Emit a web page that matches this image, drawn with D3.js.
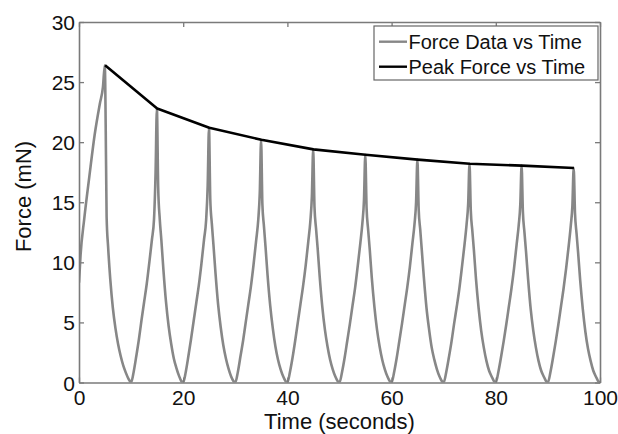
<!DOCTYPE html>
<html>
<head>
<meta charset="utf-8">
<script src="https://cdn.jsdelivr.net/npm/d3@7"></script>
<style>
  html, body { margin: 0; padding: 0; background: #fff; }
  svg { display: block; }
  text { font-family: "Liberation Sans", Arial, sans-serif; fill: #111; }
</style>
</head>
<body>
<svg id="chart" width="618" height="434"></svg>
<script>
// ---- data ----
const xTicks = [0, 20, 40, 60, 80, 100];
const yTicks = [0, 5, 10, 15, 20, 25, 30];

const peakTime  = [5, 15, 25, 35, 45, 55, 65, 75, 85, 95];
const peakForce = [26.4, 22.8, 21.2, 20.2, 19.4, 18.95, 18.55, 18.2, 18.05, 17.85];

const forceTime = [
  0, 0.3, 1, 2, 3, 4, 4.6, 4.95, 5.2, 5.3, 5.6, 6, 6.5, 7, 7.5, 8, 8.5, 9, 9.5, 10,
  10.5, 11, 11.5, 12, 12.5, 13, 13.5, 14, 14.4, 14.7, 14.95, 15.2, 15.5, 15.8, 16.2, 16.7, 17.2, 17.7, 18.2, 18.7, 19.2, 19.6, 20,
  20.5, 21, 21.5, 22, 22.5, 23, 23.5, 24, 24.4, 24.7, 24.95, 25.2, 25.5, 25.8, 26.2, 26.7, 27.2, 27.7, 28.2, 28.7, 29.2, 29.6, 30,
  30.5, 31, 31.5, 32, 32.5, 33, 33.5, 34, 34.4, 34.7, 34.95, 35.2, 35.5, 35.8, 36.2, 36.7, 37.2, 37.7, 38.2, 38.7, 39.2, 39.6, 40,
  40.5, 41, 41.5, 42, 42.5, 43, 43.5, 44, 44.4, 44.7, 44.95, 45.2, 45.5, 45.8, 46.2, 46.7, 47.2, 47.7, 48.2, 48.7, 49.2, 49.6, 50,
  50.5, 51, 51.5, 52, 52.5, 53, 53.5, 54, 54.4, 54.7, 54.95, 55.2, 55.5, 55.8, 56.2, 56.7, 57.2, 57.7, 58.2, 58.7, 59.2, 59.6, 60,
  60.5, 61, 61.5, 62, 62.5, 63, 63.5, 64, 64.4, 64.7, 64.95, 65.2, 65.5, 65.8, 66.2, 66.7, 67.2, 67.7, 68.2, 68.7, 69.2, 69.6, 70,
  70.5, 71, 71.5, 72, 72.5, 73, 73.5, 74, 74.4, 74.7, 74.95, 75.2, 75.5, 75.8, 76.2, 76.7, 77.2, 77.7, 78.2, 78.7, 79.2, 79.6, 80,
  80.5, 81, 81.5, 82, 82.5, 83, 83.5, 84, 84.4, 84.7, 84.95, 85.2, 85.5, 85.8, 86.2, 86.7, 87.2, 87.7, 88.2, 88.7, 89.2, 89.6, 90,
  90.5, 91, 91.5, 92, 92.5, 93, 93.5, 94, 94.4, 94.7, 94.95, 95.2, 95.5, 95.8, 96.2, 96.7, 97.2, 97.7, 98.2, 98.7, 99.2, 99.6, 100
];
const forceValue = [
  8.3, 10.6, 13.6, 17.2, 20.6, 23.2, 24.6, 26.4, 18.0, 13.8, 11.2, 8.6, 6.2, 4.5, 3.2, 2.2, 1.4, 0.8, 0.3, 0,
  0.9, 2.2, 3.6, 5.2, 6.7, 8.2, 10.0, 11.9, 13.6, 17.5, 22.8, 16.2, 13.6, 11.9, 9.4, 6.7, 4.7, 3.2, 2.0, 1.2, 0.55, 0.15, 0,
  0.9, 2.2, 3.6, 5.1, 6.6, 8.1, 9.9, 11.9, 13.5, 16.4, 21.2, 15.2, 13.2, 11.5, 9.1, 6.5, 4.6, 3.1, 2.0, 1.15, 0.5, 0.15, 0,
  0.9, 2.2, 3.5, 5.0, 6.5, 8.0, 9.8, 11.8, 13.5, 15.8, 20.2, 14.8, 13.0, 11.3, 8.9, 6.4, 4.5, 3.0, 1.9, 1.1, 0.5, 0.15, 0,
  0.9, 2.1, 3.5, 5.0, 6.5, 8.0, 9.7, 11.7, 13.4, 15.5, 19.4, 14.6, 12.8, 11.2, 8.8, 6.3, 4.4, 3.0, 1.9, 1.1, 0.5, 0.15, 0,
  0.9, 2.1, 3.5, 4.9, 6.4, 7.9, 9.7, 11.6, 13.3, 15.2, 18.95, 14.5, 12.7, 11.1, 8.7, 6.3, 4.4, 3.0, 1.9, 1.1, 0.5, 0.15, 0,
  0.9, 2.1, 3.5, 4.9, 6.4, 7.9, 9.6, 11.6, 13.2, 15.0, 18.55, 14.4, 12.7, 11.0, 8.7, 6.2, 4.4, 2.9, 1.9, 1.1, 0.5, 0.15, 0,
  0.9, 2.1, 3.4, 4.9, 6.3, 7.8, 9.6, 11.5, 13.2, 14.9, 18.2, 14.3, 12.6, 11.0, 8.6, 6.2, 4.3, 2.9, 1.8, 1.0, 0.5, 0.15, 0,
  0.9, 2.1, 3.4, 4.8, 6.3, 7.8, 9.5, 11.5, 13.1, 14.8, 18.05, 14.2, 12.5, 10.9, 8.6, 6.1, 4.3, 2.9, 1.8, 1.0, 0.5, 0.15, 0,
  0.9, 2.1, 3.4, 4.8, 6.3, 7.8, 9.5, 11.4, 13.1, 14.7, 17.85, 14.1, 12.4, 10.8, 8.5, 6.1, 4.2, 2.8, 1.8, 1.0, 0.5, 0.15, 0
];

const seriesNames = ["Force Data vs Time", "Peak Force vs Time"];
const seriesColors = ["#878787", "#000000"];
const xLabel = "Time (seconds)";
const yLabel = "Force (mN)";

// ---- layout ----
const plot = { left: 79, right: 600, top: 22, bottom: 382.5 };
const axisColor = "#7a7a7a";

const svg = d3.select("#chart");

const x = d3.scaleLinear().domain([0, 100]).range([plot.left, plot.right]);
const y = d3.scaleLinear().domain([0, 30]).range([plot.bottom, plot.top]);

const forcePts = forceTime.map((t, i) => [t, forceValue[i]]);
const peakPts = peakTime.map((t, i) => [t, peakForce[i]]);

const line = d3.line().x(d => x(d[0])).y(d => y(d[1])).curve(d3.curveMonotoneX);
const lineStraight = d3.line().x(d => x(d[0])).y(d => y(d[1]));

const clipId = "plotclip";
svg.append("clipPath").attr("id", clipId)
  .append("rect")
  .attr("x", plot.left).attr("y", plot.top - 2)
  .attr("width", plot.right - plot.left).attr("height", plot.bottom - plot.top + 2);

// data lines
svg.append("path")
  .datum(forcePts)
  .attr("d", line)
  .attr("fill", "none")
  .attr("stroke", seriesColors[0])
  .attr("stroke-width", 2.6)
  .attr("stroke-linejoin", "round")
  .attr("clip-path", `url(#${clipId})`);

svg.append("path")
  .datum(peakPts)
  .attr("d", lineStraight)
  .attr("fill", "none")
  .attr("stroke", seriesColors[1])
  .attr("stroke-width", 2.6)
  .attr("stroke-linejoin", "round");

// axes (box with inward ticks on all sides)
const tickLen = 5;
const axes = svg.append("g").attr("class", "axes");

const bottomAxis = d3.axisBottom(x).tickValues(xTicks).tickSizeInner(-tickLen).tickSizeOuter(0).tickPadding(10);
const topAxis = d3.axisTop(x).tickValues(xTicks).tickSizeInner(-tickLen).tickSizeOuter(0).tickFormat("");
const leftAxis = d3.axisLeft(y).tickValues(yTicks).tickSizeInner(-tickLen).tickSizeOuter(0).tickPadding(9);
const rightAxis = d3.axisRight(y).tickValues(yTicks).tickSizeInner(-tickLen).tickSizeOuter(0).tickFormat("");

const gB = axes.append("g").attr("transform", `translate(0,${plot.bottom})`).call(bottomAxis);
const gT = axes.append("g").attr("transform", `translate(0,${plot.top})`).call(topAxis);
const gL = axes.append("g").attr("transform", `translate(${plot.left},0)`).call(leftAxis);
const gR = axes.append("g").attr("transform", `translate(${plot.right},0)`).call(rightAxis);

[gB, gT, gL, gR].forEach(g => {
  g.select(".domain").attr("stroke", axisColor).attr("stroke-width", 1.6);
  g.selectAll(".tick line").attr("stroke", axisColor).attr("stroke-width", 1.3);
  g.selectAll(".tick text")
    .attr("font-family", '"Liberation Sans", Arial, sans-serif')
    .attr("font-size", 21)
    .attr("fill", "#111");
});
gL.selectAll(".tick text").attr("x", -4).attr("dy", "0.36em");
gB.selectAll(".tick text").attr("dy", "0.78em").attr("y", 6);

// axis titles
svg.append("text")
  .attr("x", (plot.left + plot.right) / 2)
  .attr("y", 429)
  .attr("text-anchor", "middle")
  .attr("font-size", 22)
  .text(xLabel);

svg.append("text")
  .attr("transform", `translate(31,${196.5}) rotate(-90)`)
  .attr("text-anchor", "middle")
  .attr("font-size", 22)
  .text(yLabel);

// legend
const legend = svg.append("g");
legend.append("rect")
  .attr("x", 374).attr("y", 26)
  .attr("width", 224).attr("height", 54)
  .attr("fill", "#fff")
  .attr("stroke", "#666")
  .attr("stroke-width", 1.2);

const legendRows = [41.7, 66.7];
seriesNames.forEach((name, i) => {
  legend.append("line")
    .attr("x1", 379).attr("x2", 407)
    .attr("y1", legendRows[i]).attr("y2", legendRows[i])
    .attr("stroke", seriesColors[i])
    .attr("stroke-width", 2.4);
  legend.append("text")
    .attr("x", 408.5)
    .attr("y", legendRows[i])
    .attr("dy", "0.36em")
    .attr("font-size", 20)
    .text(name);
});
</script>
</body>
</html>
